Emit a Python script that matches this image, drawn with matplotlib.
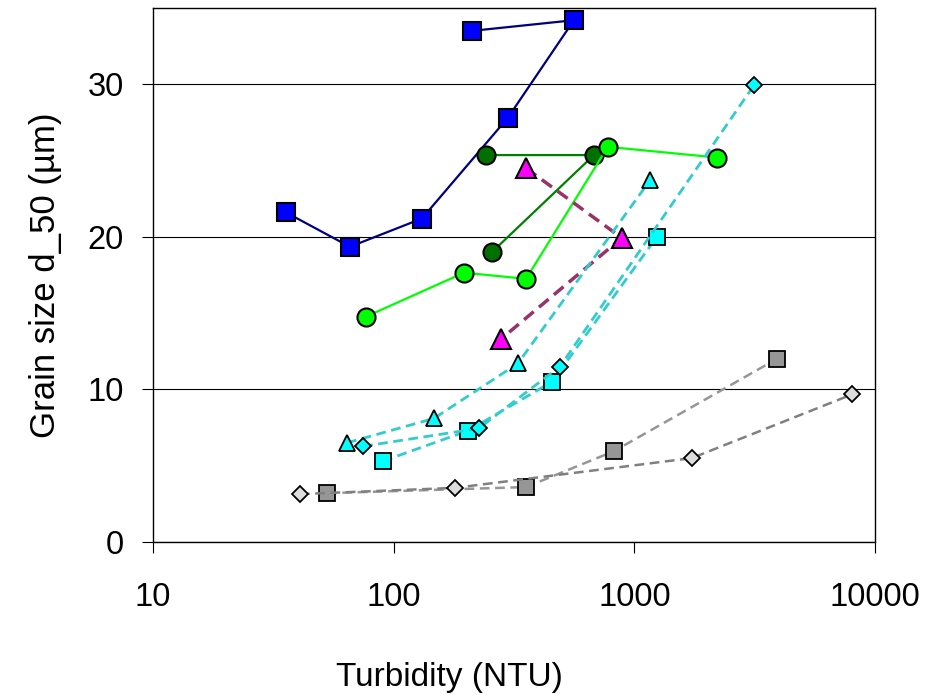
import matplotlib
matplotlib.use("Agg")
from matplotlib import pyplot as plt

# turbidity (NTU) and grain size d_50 (um) for each run
blue_ntu = [35.7, 65.8, 131, 298, 561, 211]
blue_d50 = [21.6, 19.35, 21.2, 27.8, 34.2, 33.5]

dkgreen_ntu = [241, 679, 256]
dkgreen_d50 = [25.36, 25.36, 19.0]

lime_ntu = [76.7, 196, 355, 776, 2203]
lime_d50 = [14.77, 17.65, 17.25, 25.9, 25.2]

magenta_ntu = [355, 887, 279]
magenta_d50 = [24.5, 19.93, 13.3]

cyan_tri_ntu = [64.0, 147, 328, 1161]
cyan_tri_d50 = [6.5, 8.1, 11.7, 23.7]

cyan_sq_ntu = [90.3, 204, 455, 1241]
cyan_sq_d50 = [5.3, 7.3, 10.5, 20.0]

cyan_dia_ntu = [74.6, 226, 491, 3141]
cyan_dia_d50 = [6.27, 7.45, 11.5, 29.93]

gray_sq_ntu = [52.9, 355, 822, 3909]
gray_sq_d50 = [3.2, 3.6, 5.95, 12.0]

gray_dia_ntu = [40.8, 180, 1734, 8017]
gray_dia_d50 = [3.14, 3.55, 5.5, 9.67]

x_ticks = [10, 100, 1000, 10000]
y_ticks = [0, 10, 20, 30]


def draw_series(ax):
    ax.plot(blue_ntu, blue_d50, color='#000080', lw=1.6, marker='s', ms=13,
            mfc='#0000FF', mec='black', mew=1.5, zorder=3)
    ax.plot(dkgreen_ntu, dkgreen_d50, color='#008000', lw=1.6, marker='o', ms=13,
            mfc='#007000', mec='black', mew=1.5, zorder=3)
    ax.plot(lime_ntu, lime_d50, color='#00FF00', lw=1.6, marker='o', ms=13,
            mfc='#00FF00', mec='black', mew=1.5, zorder=3)
    ax.plot(magenta_ntu, magenta_d50, color='#993366', lw=2.5, ls=(0, (9, 5)),
            marker='^', ms=15, mfc='#FF00FF', mec='black', mew=1.5, zorder=3)
    ax.plot(cyan_tri_ntu, cyan_tri_d50, color='#33CCCC', lw=2, ls=(0, (7, 4)),
            marker='^', ms=12, mfc='#00FFFF', mec='black', mew=1.3, zorder=3)
    ax.plot(cyan_sq_ntu, cyan_sq_d50, color='#33CCCC', lw=2, ls=(0, (7, 4)),
            marker='s', ms=11, mfc='#00FFFF', mec='black', mew=1.3, zorder=3)
    ax.plot(cyan_dia_ntu, cyan_dia_d50, color='#33CCCC', lw=2, ls=(0, (7, 4)),
            marker='D', ms=8.5, mfc='#00FFFF', mec='black', mew=1.3, zorder=3)
    ax.plot(gray_sq_ntu, gray_sq_d50, color='#969696', lw=1.8, ls=(0, (7, 4)),
            marker='s', ms=11, mfc='#969696', mec='black', mew=1.3, zorder=3)
    ax.plot(gray_dia_ntu, gray_dia_d50, color='#808080', lw=1.8, ls=(0, (7, 4)),
            marker='D', ms=8.5, mfc='#DDDDDD', mec='black', mew=1.3, zorder=3)


def main():
    plt.rcParams['font.family'] = ['Liberation Sans', 'DejaVu Sans']
    plt.rcParams['lines.scale_dashes'] = False

    fig = plt.figure(figsize=(9.27, 6.95), dpi=100)
    ax = fig.add_axes([153 / 927, 1 - 542 / 695, 722 / 927, 534 / 695])

    draw_series(ax)

    ax.set_xscale('log')
    ax.set_xlim(10, 10000)
    ax.set_ylim(0, 35)
    ax.set_xticks(x_ticks)
    ax.set_xticklabels([str(t) for t in x_ticks])
    ax.minorticks_off()
    ax.set_yticks(y_ticks)

    ax.yaxis.grid(True, color='black', lw=0.8)
    ax.set_axisbelow(True)
    for s in ax.spines.values():
        s.set_linewidth(1.0)
        s.set_color('black')

    ax.tick_params(axis='x', direction='out', length=8, width=0.8, pad=21, labelsize=23.5)
    ax.tick_params(axis='y', direction='out', length=8, width=0.8, pad=13, labelsize=23.5)

    ax.set_xlabel('Turbidity (NTU)', fontsize=24, labelpad=35)
    # the x label sits left of the axes centre in the original
    ax.xaxis.label.set_x(0.41)
    ax.set_ylabel('Grain size d_50 (µm)', fontsize=25, labelpad=18)

    fig.savefig('out.png', dpi=100)


if __name__ == "__main__":
    main()
